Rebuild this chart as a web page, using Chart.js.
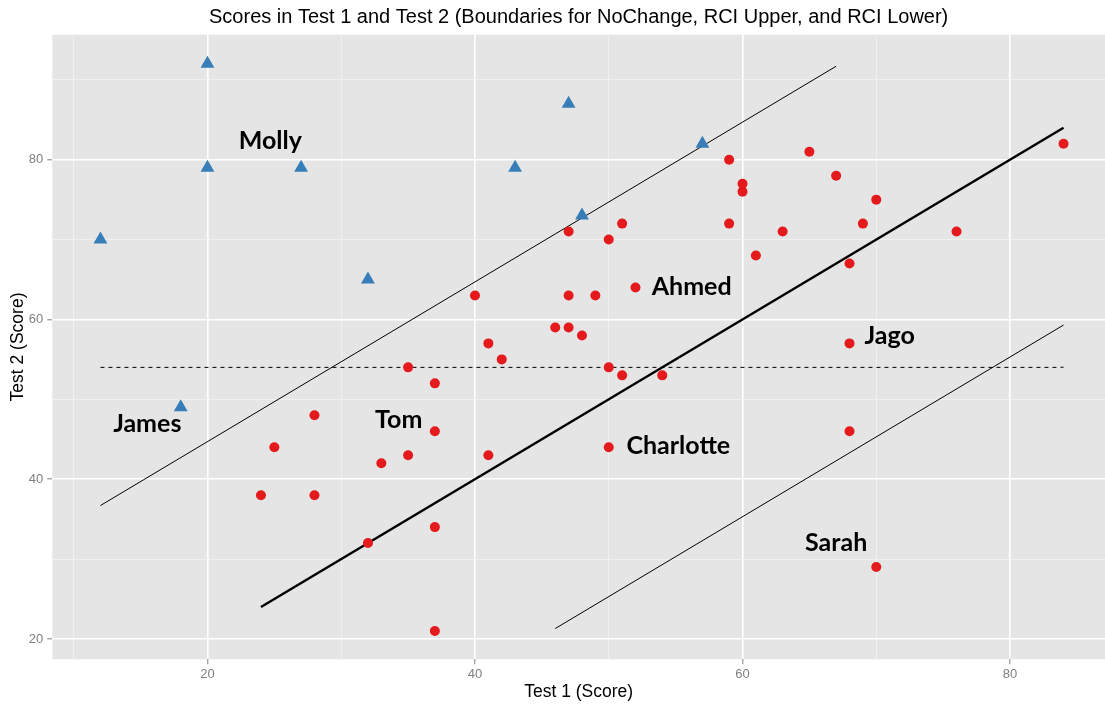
<!DOCTYPE html>
<html>
<head>
<meta charset="utf-8">
<script src="https://cdn.jsdelivr.net/npm/chart.js@4"></script>
<style>
  html, body { margin: 0; padding: 0; background: #fff; }
  #wrap { width: 1105px; height: 708px; }
</style>
</head>
<body>
<div id="wrap"><canvas id="myChart" width="1105" height="708"></canvas></div>
<script>
// red circles: inside the RCI boundaries / below
const redX = [84, 59, 65, 60, 60, 67, 70, 59, 69, 51, 47, 63, 76, 50, 61, 68, 52, 40, 47, 49, 46, 47, 48, 41, 68, 42, 50, 51, 54, 68, 41, 50, 70, 35, 37, 28, 37, 25, 35, 33, 24, 28, 37, 32, 37];
const redY = [82, 80, 81, 77, 76, 78, 75, 72, 72, 72, 71, 71, 71, 70, 68, 67, 64, 63, 63, 63, 59, 59, 58, 57, 57, 55, 54, 53, 53, 46, 43, 44, 29, 54, 52, 48, 46, 44, 43, 42, 38, 38, 34, 32, 21];

// blue triangles
const blueX = [20, 20, 27, 12, 32, 47, 43, 57, 48, 18];
const blueY = [92, 79, 79, 70, 65, 87, 79, 82, 73, 49];

// boundary lines (end points)
const noChangeX = [24, 84];
const noChangeY = [24, 84];
const rciUpperX = [12, 67];
const rciUpperY = [36.7, 91.7];
const rciLowerX = [46, 84];
const rciLowerY = [21.3, 59.3];
const meanX = [12, 84];
const meanY = [54, 54];

// name labels
const names = ['Molly', 'James', 'Tom', 'Ahmed', 'Jago', 'Charlotte', 'Sarah'];
const nameX = [24.7, 15.5, 34.3, 56.2, 71.0, 55.2, 67.0];
const nameY = [81.4, 45.9, 46.4, 63.0, 56.9, 43.2, 31.0];

// ticks (every 10 gets a grid line, every 20 a label)
const xTicks = [10, 20, 30, 40, 50, 60, 70, 80];
const yTicks = [20, 30, 40, 50, 60, 70, 80, 90];

const toPoints = (xs, ys) => xs.map((v, i) => ({ x: v, y: ys[i] }));
const isMajor = v => v % 20 === 0;

const panelBg = {
  id: 'panelBg',
  beforeDraw(chart) {
    const { ctx, chartArea: a } = chart;
    ctx.save();
    ctx.fillStyle = '#E5E5E5';
    ctx.fillRect(a.left, a.top, a.right - a.left, a.bottom - a.top);
    ctx.restore();
  }
};

const nameLabels = {
  id: 'nameLabels',
  afterDatasetsDraw(chart) {
    const { ctx, scales: { x, y } } = chart;
    ctx.save();
    ctx.font = 'bold 25px Lato';
    ctx.fillStyle = '#000';
    ctx.textAlign = 'center';
    ctx.textBaseline = 'alphabetic';
    names.forEach((n, i) => {
      ctx.fillText(n, x.getPixelForValue(nameX[i]), y.getPixelForValue(nameY[i]));
    });
    ctx.restore();
  }
};

const lineSet = (xs, ys, width, dash) => ({
  type: 'line',
  data: toPoints(xs, ys),
  borderColor: '#000',
  borderWidth: width,
  borderDash: dash || [],
  pointRadius: 0,
  fill: false,
  tension: 0
});

const gridOpts = {
  color: c => (c.tick && isMajor(c.tick.value)) ? '#FFFFFF' : '#F2F2F2',
  lineWidth: c => (c.tick && isMajor(c.tick.value)) ? 1.6 : 0.8,
  tickColor: c => (c.tick && isMajor(c.tick.value)) ? '#7F7F7F' : 'rgba(0,0,0,0)',
  tickLength: 5,
  tickWidth: 1
};

new Chart(document.getElementById('myChart'), {
  type: 'scatter',
  data: {
    datasets: [
      {
        data: toPoints(redX, redY),
        pointStyle: 'circle',
        pointRadius: 5,
        pointBackgroundColor: '#E41A1C',
        pointBorderWidth: 0
      },
      {
        data: toPoints(blueX, blueY),
        pointStyle: 'triangle',
        pointRadius: 8,
        pointBackgroundColor: '#377EB8',
        pointBorderWidth: 0
      },
      lineSet(noChangeX, noChangeY, 2.5),
      lineSet(rciUpperX, rciUpperY, 1),
      lineSet(rciLowerX, rciLowerY, 1),
      lineSet(meanX, meanY, 1, [4, 4])
    ]
  },
  options: {
    responsive: false,
    animation: false,
    layout: { padding: 0, autoPadding: false },
    plugins: {
      legend: { display: false },
      tooltip: { enabled: false },
      title: {
        display: true,
        fullSize: false,
        text: 'Scores in Test 1 and Test 2 (Boundaries for NoChange, RCI Upper, and RCI Lower)',
        color: '#000',
        font: { family: 'Liberation Sans', size: 20, weight: 'normal' },
        padding: { top: 5, bottom: 5.7 }
      }
    },
    scales: {
      x: {
        type: 'linear',
        min: 8.4,
        max: 87.1,
        afterBuildTicks: s => { s.ticks = xTicks.map(v => ({ value: v })); },
        afterFit: s => { s.height = 48.7; s.paddingLeft = 0; s.paddingRight = 0; },
        border: { display: false },
        grid: gridOpts,
        ticks: {
          autoSkip: false,
          maxRotation: 0,
          padding: 2,
          color: '#7F7F7F',
          font: { family: 'Liberation Sans', size: 13 },
          callback: v => isMajor(v) ? String(v) : ''
        },
        title: {
          display: true,
          text: 'Test 1 (Score)',
          color: '#000',
          font: { family: 'Liberation Sans', size: 17.5 },
          padding: { top: 0, bottom: 5.5 }
        }
      },
      y: {
        type: 'linear',
        min: 17.45,
        max: 95.65,
        afterBuildTicks: s => { s.ticks = yTicks.map(v => ({ value: v })); },
        afterFit: s => { s.width = 52.3; s.paddingTop = 0; s.paddingBottom = 0; },
        border: { display: false },
        grid: gridOpts,
        ticks: {
          autoSkip: false,
          padding: 4,
          color: '#7F7F7F',
          font: { family: 'Liberation Sans', size: 13 },
          callback: v => isMajor(v) ? String(v) : ''
        },
        title: {
          display: true,
          text: 'Test 2 (Score)',
          color: '#000',
          font: { family: 'Liberation Sans', size: 17.5 },
          padding: { top: 8, bottom: 0 }
        }
      }
    }
  },
  plugins: [panelBg, nameLabels]
});
</script>
</body>
</html>
